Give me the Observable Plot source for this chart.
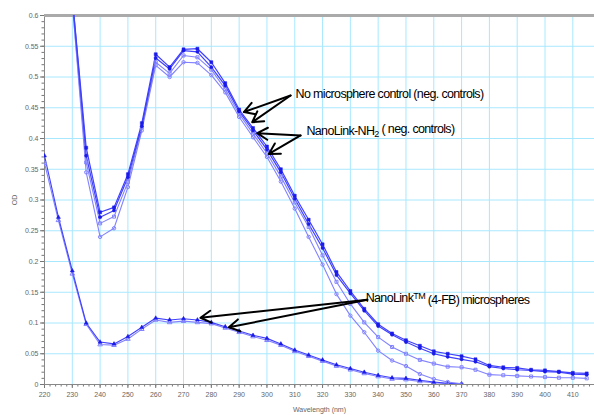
<!DOCTYPE html>
<html><head><meta charset="utf-8">
<script src="https://cdn.jsdelivr.net/npm/d3@7"></script>
<script src="https://cdn.jsdelivr.net/npm/@observablehq/plot@0.6"></script>
<style>
html,body{margin:0;padding:0;background:#fff;}
#chart{width:594px;height:415px;overflow:hidden;}
</style></head>
<body><div id="chart"></div>
<script>
// Upper curves (negative controls), wavelength 230..415 nm
const wlUpper = [230,235,240,245,250,255,260,265,270,275,280,285,290,295,300,305,310,315,320,325,330,335,340,345,350,355,360,365,370,375,380,385,390,395,400,405,410,415];
const ctrlA = [0.63,0.385,0.280,0.288,0.342,0.425,0.537,0.516,0.545,0.546,0.524,0.490,0.447,0.417,0.387,0.350,0.307,0.268,0.228,0.183,0.152,0.123,0.098,0.083,0.072,0.063,0.054,0.050,0.046,0.041,0.031,0.028,0.027,0.024,0.023,0.021,0.019,0.018];
const ctrlB = [0.63,0.372,0.272,0.283,0.337,0.420,0.531,0.513,0.543,0.541,0.516,0.486,0.444,0.413,0.382,0.345,0.302,0.261,0.222,0.178,0.148,0.120,0.095,0.081,0.069,0.059,0.050,0.045,0.041,0.037,0.029,0.026,0.024,0.023,0.021,0.020,0.017,0.016];
const nh2C  = [0.62,0.361,0.262,0.273,0.329,0.418,0.524,0.506,0.535,0.532,0.512,0.480,0.440,0.408,0.376,0.338,0.296,0.256,0.210,0.167,0.131,0.101,0.077,0.061,0.050,0.040,0.034,0.029,0.028,0.024,0.016,0.015,0.014,0.013,0.012,0.011,0.011,0.010];
const wlD = [230,235,240,245,250,255,260,265,270,275,280,285,290,295,300,305,310,315,320,325,330,335,340,345,350,355,360,365,370];
const nh2D  = [0.62,0.345,0.240,0.254,0.321,0.413,0.519,0.500,0.524,0.523,0.503,0.475,0.435,0.402,0.370,0.330,0.286,0.240,0.195,0.147,0.112,0.085,0.055,0.039,0.030,0.017,0.009,0.004,0.001];
// Lower curves (NanoLink 4-FB microspheres), 220..370 nm
const wlLower = [220,225,230,235,240,245,250,255,260,265,270,275,280,285,290,295,300,305,310,315,320,325,330,335,340,345,350,355,360,365,370];
const fbE = [0.372,0.272,0.185,0.100,0.069,0.066,0.078,0.093,0.108,0.105,0.107,0.105,0.101,0.094,0.087,0.080,0.075,0.066,0.056,0.048,0.040,0.032,0.026,0.020,0.015,0.011,0.010,0.007,0.004,0.002,0.001];
const fbF = [0.360,0.267,0.180,0.098,0.065,0.064,0.074,0.090,0.105,0.101,0.103,0.101,0.099,0.092,0.085,0.078,0.072,0.064,0.054,0.046,0.038,0.030,0.024,0.018,0.013,0.009,0.008,0.005,0.003,0.001,0.000];

// Axis ticks
const xTicks = [220,230,240,250,260,270,280,290,300,310,320,330,340,350,360,370,380,390,400,410];
const yTicks = [0,0.05,0.1,0.15,0.2,0.25,0.3,0.35,0.4,0.45,0.5,0.55,0.6];
const yTickLabels = ["0","0.05","0.1","0.15","0.2","0.25","0.3","0.35","0.4","0.45","0.5","0.55","0.6"];

// Annotations
const labelText = ["No microsphere control (neg. controls)", "NanoLink-NH2 ( neg. controls)", "NanoLinkTM (4-FB) microspheres"];
const labelX = [310.3, 314.2, 335.5];
const labelY = [0.473, 0.413, 0.140];
const arrowX1 = [308.5, 308.5, 312.1, 312.1, 336.1, 336.1];
const arrowY1 = [0.470, 0.470, 0.405, 0.405, 0.1377, 0.1377];
const arrowX2 = [291.7, 294.7, 296.5, 300.7, 276.1, 286.3];
const arrowY2 = [0.443, 0.4265, 0.4086, 0.375, 0.1085, 0.093];

const mk = (wl, vals) => wl.map((w, i) => ({wl: w, od: vals[i]}));
const A = mk(wlUpper, ctrlA), B = mk(wlUpper, ctrlB), C = mk(wlUpper, nh2C), D = mk(wlD, nh2D);
const E = mk(wlLower, fbE), F = mk(wlLower, fbF);
const labels = labelText.map((t, i) => ({t, x: labelX[i], y: labelY[i]}));
const arrows = arrowX1.map((x, i) => ({x1: x, y1: arrowY1[i], x2: arrowX2[i], y2: arrowY2[i]}));

const minorX = d3.range(220, 418, 2);
const minorY = d3.range(0, 0.601, 0.01);

const dark = "#1a1ae8", darkLine = "#4040ff", light = "#8282ff";

const plot = Plot.plot({
  width: 594, height: 415,
  marginLeft: 44, marginRight: 0, marginTop: 15, marginBottom: 31,
  style: {fontFamily: "Liberation Sans, Arial, sans-serif", background: "#fff", overflow: "visible"},
  x: {domain: [220, 417.8]},
  y: {domain: [0, 0.6]},
  marks: [
    Plot.gridX(xTicks, {stroke: "#a8e8ff", strokeOpacity: 1, strokeWidth: 1}),
    Plot.gridY(yTicks, {stroke: "#a8e8ff", strokeOpacity: 1, strokeWidth: 1}),
    Plot.axisY(minorY, {tickSize: 2.5, tickFormat: () => "", stroke: "#777", label: null}),
    Plot.axisX(minorX, {tickSize: 2.5, tickFormat: () => "", stroke: "#777", label: null}),
    Plot.axisY(yTicks, {tickSize: 4, tickPadding: 2, stroke: "#777", fill: "#666", fontSize: 7,
      tickFormat: (d, i) => yTickLabels[i], label: "OD", labelAnchor: "center", labelArrow: "none", labelOffset: 32}),
    Plot.axisX(xTicks, {tickSize: 4, tickPadding: 4, stroke: "#777", fill: "#666", fontSize: 7,
      tickFormat: d => String(d), label: "Wavelength (nm)", labelAnchor: "center", labelArrow: "none", labelOffset: 27}),
    Plot.ruleX([220], {stroke: "#888", strokeWidth: 1}),
    Plot.ruleY([0], {stroke: "#888", strokeWidth: 1}),
    Plot.ruleY([0.6], {stroke: "#aaa", strokeWidth: 3}),
    // lower curves
    Plot.line(F, {x: "wl", y: "od", stroke: light, strokeWidth: 1.1, clip: true}),
    Plot.line(E, {x: "wl", y: "od", stroke: darkLine, strokeWidth: 1.1, clip: true}),
    Plot.dot(F, {x: "wl", y: "od", symbol: "triangle", r: 1.7, stroke: light, fill: "none", strokeWidth: 1, clip: true}),
    Plot.dot(E, {x: "wl", y: "od", symbol: "triangle", r: 1.5, fill: dark, stroke: dark, strokeWidth: 0.5, clip: true}),
    // upper curves
    Plot.line(D, {x: "wl", y: "od", stroke: light, strokeWidth: 1.1, clip: true}),
    Plot.line(C, {x: "wl", y: "od", stroke: light, strokeWidth: 1.1, clip: true}),
    Plot.line(B, {x: "wl", y: "od", stroke: darkLine, strokeWidth: 1.2, clip: true}),
    Plot.line(A, {x: "wl", y: "od", stroke: darkLine, strokeWidth: 1.2, clip: true}),
    Plot.dot(D, {x: "wl", y: "od", symbol: "circle", r: 1.7, stroke: light, fill: "none", strokeWidth: 1, clip: true}),
    Plot.dot(C, {x: "wl", y: "od", symbol: "square", r: 1.7, stroke: light, fill: "none", strokeWidth: 1, clip: true}),
    Plot.dot(B, {x: "wl", y: "od", symbol: "circle", r: 1.6, fill: dark, stroke: dark, strokeWidth: 0.5, clip: true}),
    Plot.dot(A, {x: "wl", y: "od", symbol: "square", r: 1.7, fill: dark, stroke: dark, strokeWidth: 0.5, clip: true}),
    // annotations
    Plot.arrow(arrows, {x1: "x1", y1: "y1", x2: "x2", y2: "y2", stroke: "#000", strokeWidth: 2, headLength: 9, bend: 0}),
    Plot.text(labels, {x: "x", y: "y", text: "t", textAnchor: "start", fill: "#000", fontSize: 12.5,
      fontFamily: "Liberation Sans Narrow, Arial Narrow, Liberation Sans, sans-serif", className: "ann"})
  ]
});
document.getElementById("chart").appendChild(plot);

// subscript / superscript formatting for annotation labels
d3.select(plot).selectAll("g.ann text").attr("letter-spacing", "-0.65").each(function() {
  const el = d3.select(this);
  const s = el.text();
  let parts = null;
  if (s.startsWith("NanoLink-NH2")) parts = [["NanoLink-NH", 0], ["2", 1], [" ( neg. controls)", 0]];
  else if (s.startsWith("NanoLinkTM")) parts = [["NanoLink", 0], ["TM", -1], [" (4-FB) microspheres", 0]];
  if (!parts) return;
  el.text(null);
  parts.forEach(([t, k]) => {
    const ts = el.append("tspan").text(t);
    if (k === 1) ts.attr("dy", "0.3em").attr("font-size", 9);
    if (k === -1) ts.attr("dy", "-0.4em").attr("font-size", 9);
    if (k === 0 && t.startsWith(" ")) ts.attr("dy", parts[1][1] === 1 ? "-0.3em" : "0.4em");
  });
});
</script>
</body></html>
